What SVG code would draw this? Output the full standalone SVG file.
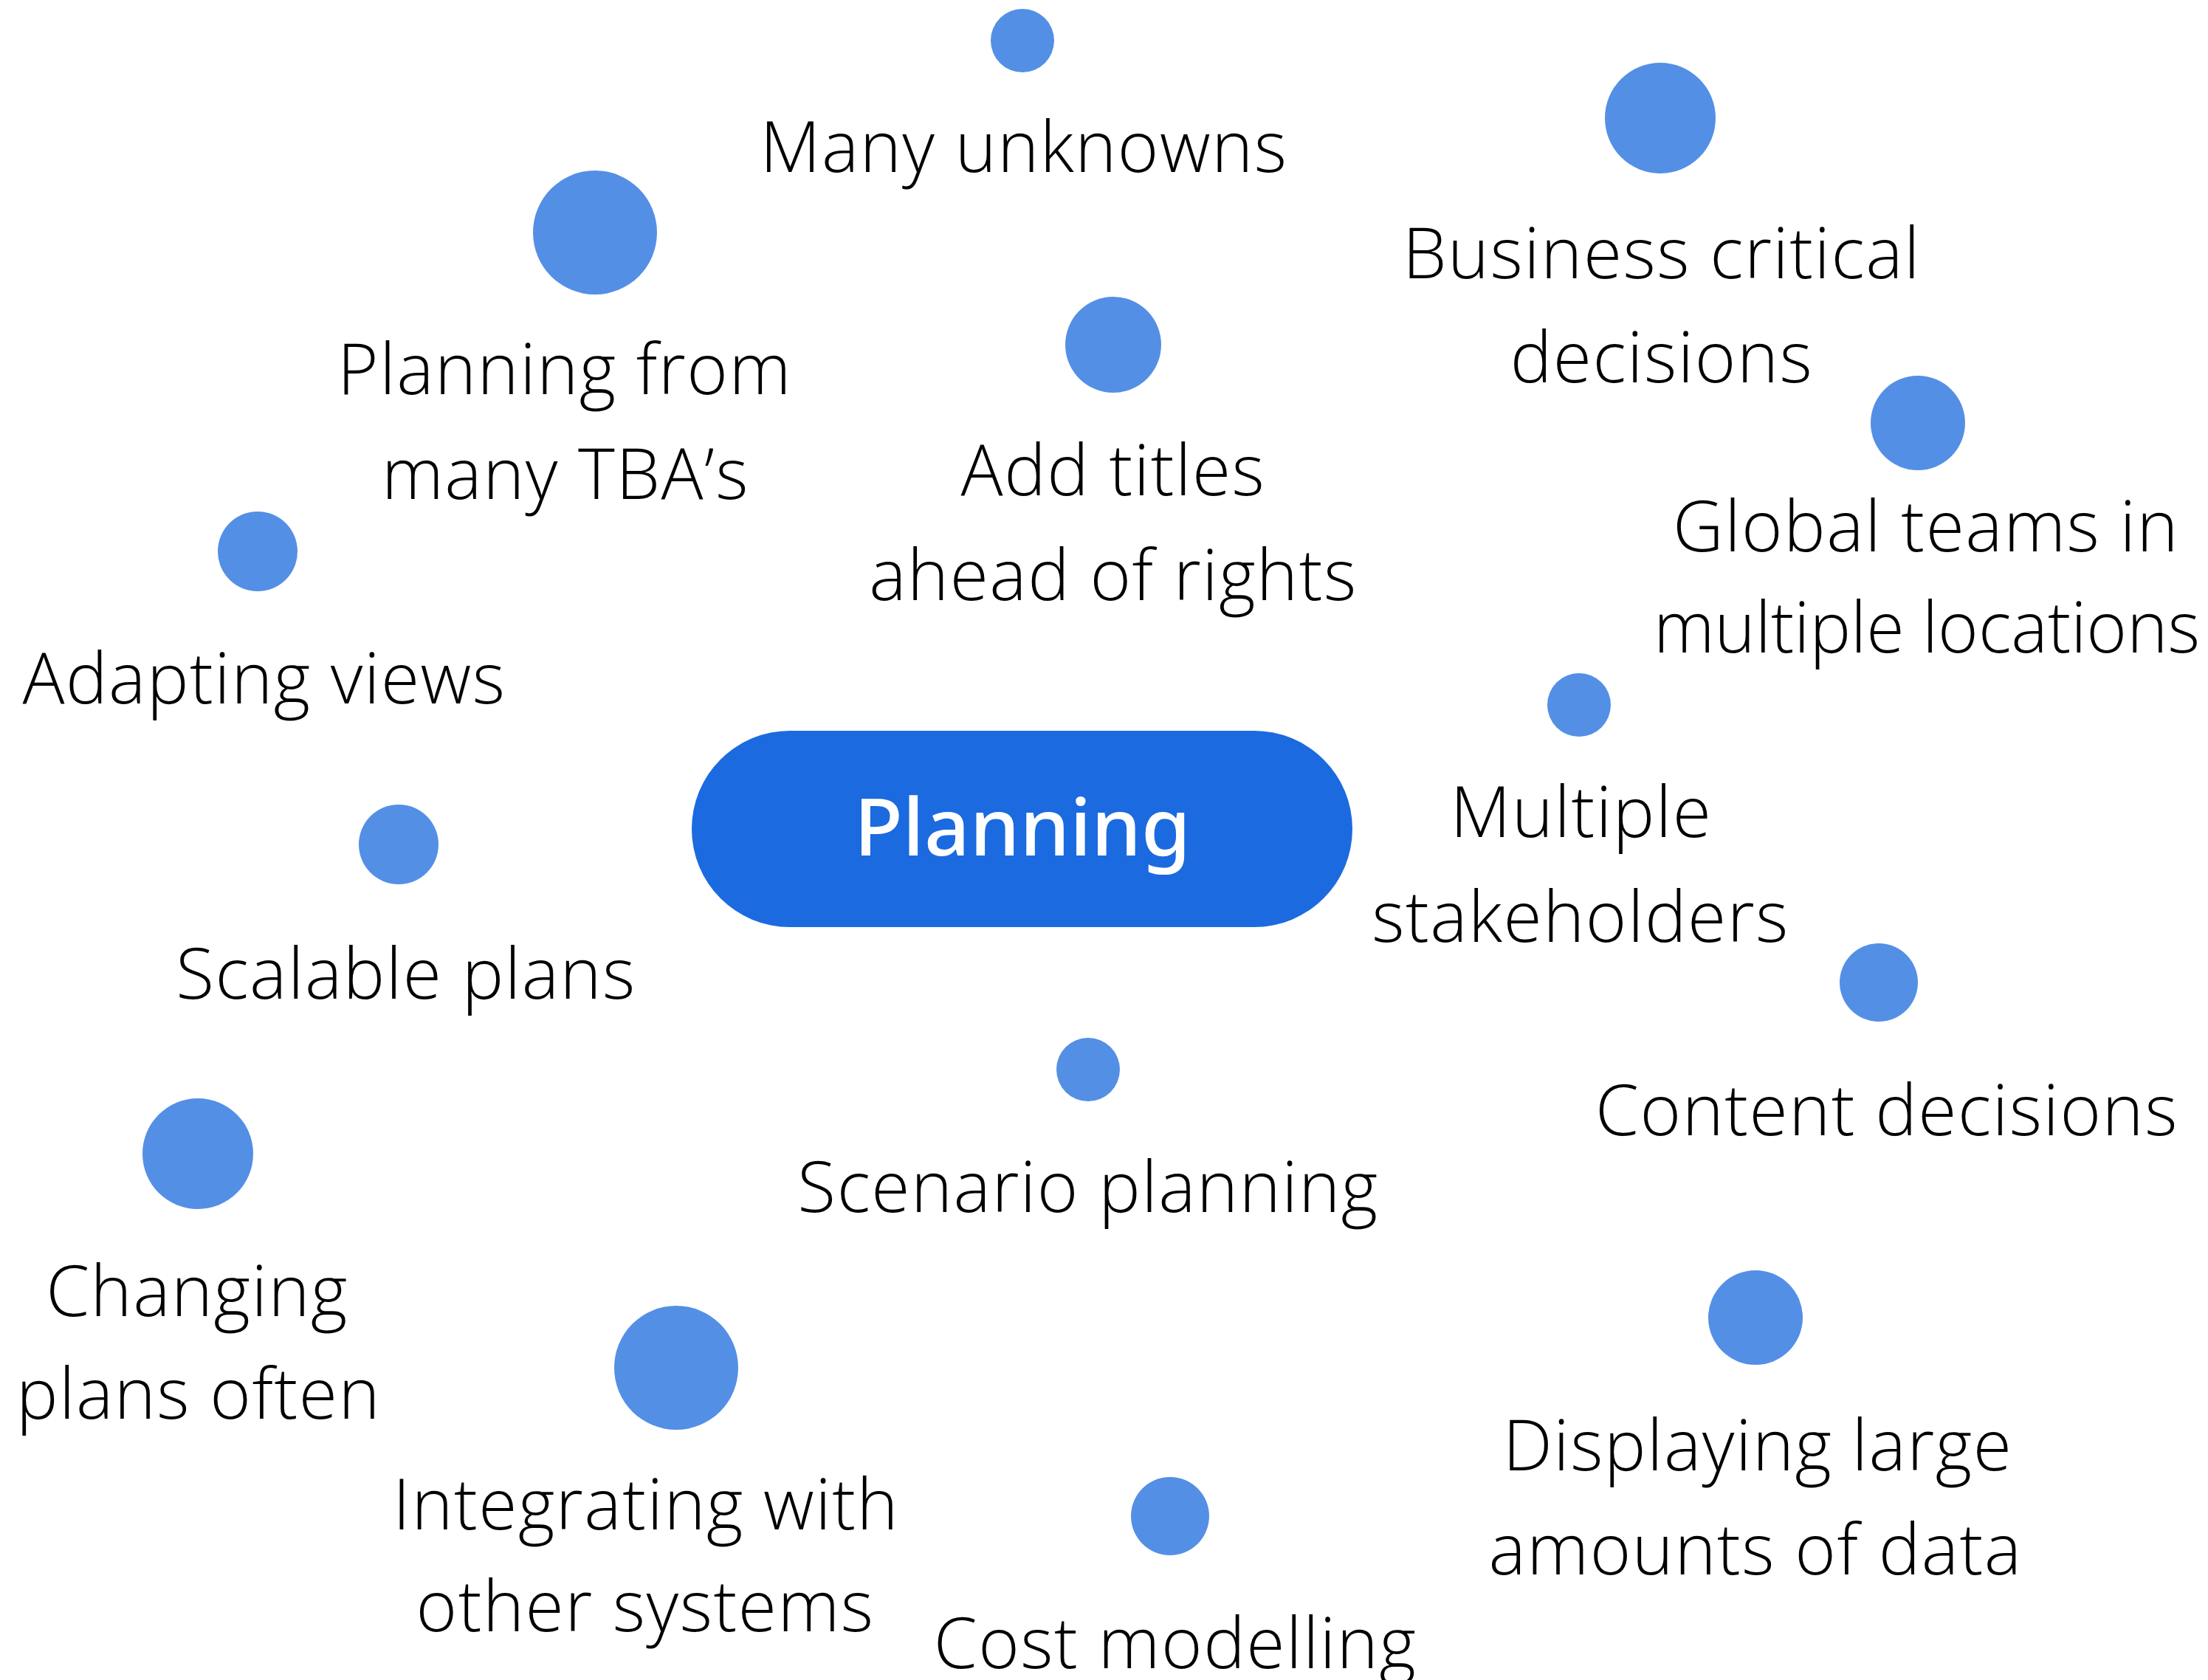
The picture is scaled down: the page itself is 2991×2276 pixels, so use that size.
<svg xmlns="http://www.w3.org/2000/svg" width="2991" height="2276" viewBox="0 0 2991 2276">
<style>
.dot{fill:#548fe6}
.lbl{font-family:"Open Sans","Noto Sans","Liberation Sans",sans-serif;font-size:95px;font-weight:300;letter-spacing:1.5px;fill:#000;text-anchor:middle}
.hub{fill:#1b6ae0}
.hubt{font-family:"Noto Sans","Open Sans","Liberation Sans",sans-serif;font-size:108px;font-weight:500;fill:#fff;text-anchor:middle}
</style>
<rect width="2991" height="2276" fill="#fff"/>
<g id="connectors"></g>
<g id="hub">
<rect class="hub" x="937" y="990" width="895" height="266" rx="133"/>
<text class="hubt" x="1385" y="1159">Planning</text>
</g>
<g id="many-unknowns">
<circle class="dot" cx="1385" cy="55" r="43"/>
<text class="lbl" x="1387" y="233">Many unknowns</text>
</g>
<g id="business-critical">
<circle class="dot" cx="2249" cy="160" r="75"/>
<text class="lbl" x="2251" y="377">Business critical</text>
<text class="lbl" x="2251" y="518">decisions</text>
</g>
<g id="planning-from">
<circle class="dot" cx="806" cy="315" r="84"/>
<text class="lbl" x="765" y="534">Planning from</text>
<text class="lbl" x="766" y="676">many TBA’s</text>
</g>
<g id="add-titles">
<circle class="dot" cx="1508" cy="467" r="65"/>
<text class="lbl" x="1508" y="671">Add titles</text>
<text class="lbl" x="1508" y="813">ahead of rights</text>
</g>
<g id="global-teams">
<circle class="dot" cx="2598" cy="573" r="64"/>
<text class="lbl" x="2609" y="747">Global teams in</text>
<text class="lbl" x="2610" y="884" style="letter-spacing:0" textLength="740" lengthAdjust="spacingAndGlyphs">multiple locations</text>
</g>
<g id="adapting-views">
<circle class="dot" cx="349" cy="747" r="54"/>
<text class="lbl" x="358" y="953">Adapting views</text>
</g>
<g id="multiple-stakeholders">
<circle class="dot" cx="2139" cy="955" r="43"/>
<text class="lbl" x="2142" y="1134">Multiple</text>
<text class="lbl" x="2141" y="1276">stakeholders</text>
</g>
<g id="scalable-plans">
<circle class="dot" cx="540" cy="1144" r="54"/>
<text class="lbl" x="550" y="1353">Scalable plans</text>
</g>
<g id="content-decisions">
<circle class="dot" cx="2545" cy="1331" r="53"/>
<text class="lbl" x="2556" y="1538">Content decisions</text>
</g>
<g id="scenario-planning">
<circle class="dot" cx="1474" cy="1449" r="43"/>
<text class="lbl" x="1474" y="1642">Scenario planning</text>
</g>
<g id="changing-plans">
<circle class="dot" cx="268" cy="1563" r="75"/>
<text class="lbl" x="267" y="1783">Changing</text>
<text class="lbl" x="269" y="1922">plans often</text>
</g>
<g id="displaying-data">
<circle class="dot" cx="2378" cy="1785" r="64"/>
<text class="lbl" x="2381" y="1992">Displaying large</text>
<text class="lbl" x="2378" y="2133">amounts of data</text>
</g>
<g id="integrating">
<circle class="dot" cx="916" cy="1853" r="84"/>
<text class="lbl" x="875" y="2072">Integrating with</text>
<text class="lbl" x="874" y="2210">other systems</text>
</g>
<g id="cost-modelling">
<circle class="dot" cx="1585" cy="2054" r="53"/>
<text class="lbl" x="1592" y="2260">Cost modelling</text>
</g>
</svg>
